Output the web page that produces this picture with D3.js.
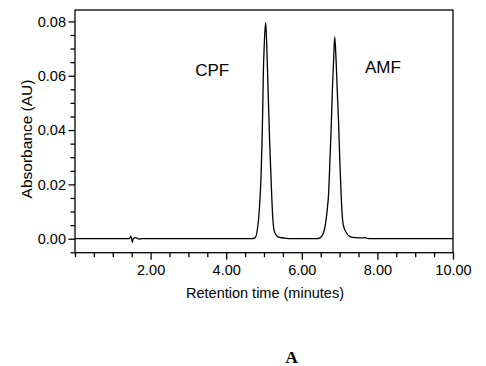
<!DOCTYPE html>
<html>
<head>
<meta charset="utf-8">
<script src="https://cdn.jsdelivr.net/npm/d3@7"></script>
<style>
  html, body { margin: 0; padding: 0; background: #fff; }
  svg { display: block; }
</style>
</head>
<body>
<svg id="chart" width="486" height="366"></svg>
<script>
// ---- Data ----
const retentionTime = [
  0.00, 1.43, 1.48, 1.515, 1.54, 1.60, 1.69, 1.77,
  4.68, 4.762, 4.823, 4.876, 4.921, 4.947, 4.966, 4.981, 5.008, 5.045,
  5.071, 5.098, 5.124, 5.151, 5.185, 5.220, 5.265, 5.33, 5.42, 5.56, 5.70,
  6.40, 6.481, 6.569, 6.622, 6.667, 6.712, 6.746, 6.780, 6.807, 6.844, 6.87,
  6.905, 6.939, 6.976, 7.003, 7.037, 7.063, 7.098, 7.188, 7.275, 7.43, 7.62,
  7.68, 7.72, 7.85, 10.00
];
const absorbance = [
  0, 0, 0.0009, -0.0013, 0.0000, 0.0004, -0.0001, 0,
  0, 0.0003, 0.0032, 0.0106, 0.0228, 0.0351, 0.0474, 0.0596, 0.0719, 0.0795,
  0.0719, 0.0596, 0.0474, 0.0351, 0.0228, 0.0106, 0.0032, 0.0012, 0.0005, 0.0002, 0,
  0, 0.0003, 0.0020, 0.0050, 0.0099, 0.0173, 0.0296, 0.0418, 0.0541, 0.0664, 0.0743,
  0.0664, 0.0541, 0.0418, 0.0296, 0.0173, 0.0099, 0.0050, 0.0020, 0.0008, 0.0004, 0.0003,
  0.0005, 0.0001, 0, 0
];
const xDomain = [0, 10];
const yDomain = [-0.00515, 0.0842];
const xMajorTicks = [2, 4, 6, 8, 10];
const xTickLabels = ["2.00", "4.00", "6.00", "8.00", "10.00"];
const yMajorTicks = [0, 0.02, 0.04, 0.06, 0.08];
const yTickLabels = ["0.00", "0.02", "0.04", "0.06", "0.08"];
const peakNames = ["CPF", "AMF"];
const peakLabelPos = [[3.18, 0.060], [7.67, 0.0611]]; // [time, absorbance] of label start
const xTitle = "Retention time (minutes)";
const yTitle = "Absorbance (AU)";
const panelLabel = "A";

// ---- Layout ----
const SANS = "'Liberation Sans', Arial, sans-serif";
const SERIF = "'Liberation Serif', 'Times New Roman', serif";
const L = 75, R = 453, T = 10, B = 252.7;
const svg = d3.select("#chart");
const x = d3.scaleLinear().domain(xDomain).range([L, R]);
const y = d3.scaleLinear().domain(yDomain).range([B, T]);

// Frame
svg.append("rect")
  .attr("x", L).attr("y", T).attr("width", R - L).attr("height", B - T)
  .attr("fill", "none").attr("stroke", "#000").attr("stroke-width", 1.3);

// X axis (ticks pointing down)
const xMinor = d3.range(0, 10.001, 0.5).filter(v => !xMajorTicks.some(m => Math.abs(m - v) < 1e-6));
const xAxisMinor = d3.axisBottom(x).tickValues(xMinor).tickSize(4.5).tickFormat("");
const xAxisMajor = d3.axisBottom(x).tickValues(xMajorTicks).tickSize(7)
  .tickFormat((d, i) => xTickLabels[i]).tickPadding(4);
const gxMinor = svg.append("g").attr("transform", `translate(0,${B})`).call(xAxisMinor);
const gxMajor = svg.append("g").attr("transform", `translate(0,${B})`).call(xAxisMajor);
[gxMinor, gxMajor].forEach(g => {
  g.select(".domain").remove();
  g.selectAll("line").attr("stroke", "#000").attr("stroke-width", 1.3);
});
gxMajor.selectAll("text").style("font-size", "14.5px")
  .style("font-family", SANS).attr("fill", "#000")
  .attr("dy", "0.71em").attr("y", 12);

// Y axis (ticks pointing left)
const yMinor = d3.range(-0.005, 0.0826, 0.005).filter(v => !yMajorTicks.some(m => Math.abs(m - v) < 1e-6));
const yAxisMinor = d3.axisLeft(y).tickValues(yMinor).tickSize(4.5).tickFormat("");
const yAxisMajor = d3.axisLeft(y).tickValues(yMajorTicks).tickSize(6.5)
  .tickFormat((d, i) => yTickLabels[i]).tickPadding(2.5);
const gyMinor = svg.append("g").attr("transform", `translate(${L},0)`).call(yAxisMinor);
const gyMajor = svg.append("g").attr("transform", `translate(${L},0)`).call(yAxisMajor);
[gyMinor, gyMajor].forEach(g => {
  g.select(".domain").remove();
  g.selectAll("line").attr("stroke", "#000").attr("stroke-width", 1.3);
});
gyMajor.selectAll("text").style("font-size", "14.5px")
  .style("font-family", SANS).attr("fill", "#000");

// Trace
const pts = retentionTime.map((t, i) => [t, absorbance[i]]);
const line = d3.line().x(d => x(d[0])).y(d => y(d[1])).curve(d3.curveMonotoneX);
svg.append("path").datum(pts)
  .attr("d", line)
  .attr("fill", "none").attr("stroke", "#000").attr("stroke-width", 1.3)
  .attr("stroke-linejoin", "round");

// Peak labels
svg.selectAll(".peak").data(peakNames).enter().append("text")
  .attr("class", "peak")
  .attr("x", (d, i) => x(peakLabelPos[i][0]))
  .attr("y", (d, i) => y(peakLabelPos[i][1]))
  .style("font-family", SANS).style("font-size", "17px").attr("fill", "#000")
  .text(d => d);

// Axis titles
svg.append("text")
  .attr("x", (L + R) / 2 + 1).attr("y", 298)
  .attr("text-anchor", "middle")
  .style("font-family", SANS).style("font-size", "14.5px").attr("fill", "#000")
  .text(xTitle);
svg.append("text")
  .attr("transform", `translate(32,139) rotate(-90)`)
  .attr("text-anchor", "middle")
  .style("font-family", SANS).style("font-size", "15.5px").attr("fill", "#000")
  .text(yTitle);

// Panel label
svg.append("text")
  .attr("x", 291.5).attr("y", 363)
  .attr("text-anchor", "middle")
  .style("font-family", SERIF).style("font-weight", "bold").style("font-size", "17.5px")
  .attr("fill", "#000")
  .text(panelLabel);
</script>
</body>
</html>
